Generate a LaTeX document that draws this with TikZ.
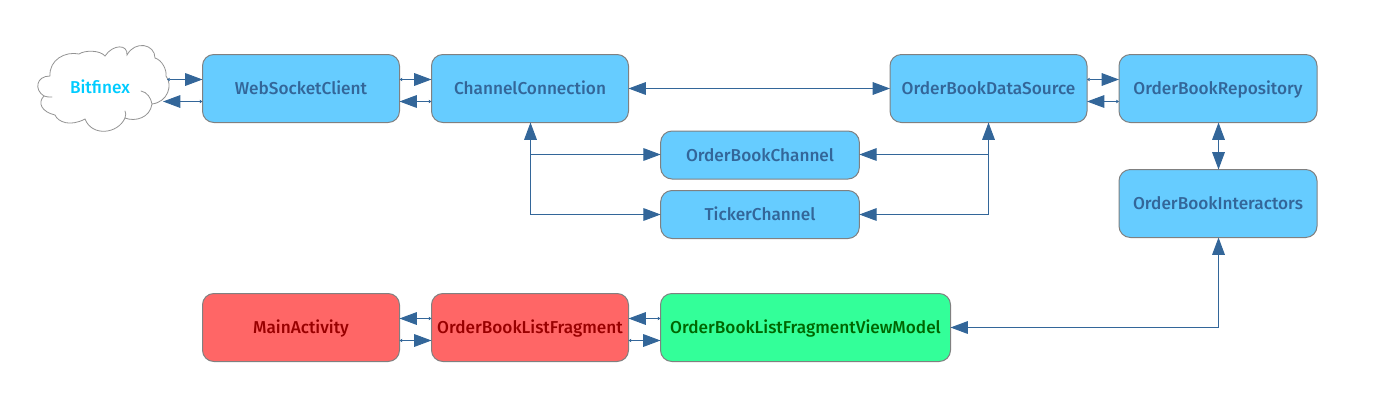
\documentclass[tikz,border=0pt]{standalone}
\usepackage{fontspec}
\setmainfont{Fira Sans Medium}
\usetikzlibrary{arrows.meta,calc}
\definecolor{bluefill}{HTML}{66CCFF}
\definecolor{redfill}{HTML}{FF6666}
\definecolor{greenfill}{HTML}{33FF99}
\definecolor{edgeblue}{HTML}{336699}
\definecolor{redtext}{HTML}{990000}
\definecolor{greentext}{HTML}{006600}
\definecolor{cloudtext}{HTML}{00CCFF}
\definecolor{boxline}{HTML}{808080}
\tikzset{
  box/.style={draw=boxline,line width=0.75pt,rounded corners=8.5pt,inner sep=0pt,outer sep=0pt,
    minimum height=51pt,minimum width=147.75pt,text height=10.5pt,text depth=1.1pt,font=\fontsize{12.9pt}{14pt}\selectfont},
  bluebox/.style={box,fill=bluefill,text=edgeblue},
  redbox/.style={box,fill=redfill,text=redtext},
  greenbox/.style={box,fill=greenfill,text=greentext},
  conn/.style={draw=edgeblue,line width=0.75pt},
  bigtip/.tip={Triangle[length=13pt,width=9.5pt]},
  smalltip/.tip={Triangle[length=2pt,width=2.5pt]},
  two/.style={conn,{smalltip}-{bigtip}},
  owt/.style={conn,{bigtip}-{smalltip}},
  both/.style={conn,{bigtip}-{bigtip}},
  cloudline/.style={draw=boxline!85!white,line width=0.6pt,line cap=round}
}
\begin{document}
\begin{tikzpicture}[x=0.75pt,y=-0.75pt]
\useasboundingbox (0,0) rectangle (1373,407);
% cloud
\fill[white] (50,78) -- (80,55) -- (140,45) -- (166,75) -- (170,90) -- (150,110) -- (105,131) -- (55,105) -- cycle;
\draw[cloudline]
 (50,76) .. controls (49,60) and (65,51) .. (79,54)
 .. controls (85,50) and (100,50) .. (105,56)
 .. controls (113,44) and (128,44) .. (127,55)
 .. controls (135,40) and (155,44) .. (155,58)
 .. controls (162,60) and (167,70) .. (166,76)
 .. controls (173,85) and (168,102) .. (152,104)
 .. controls (150,118) and (135,122) .. (125,118)
 .. controls (118,134) and (92,137) .. (85,119)
 .. controls (70,127) and (58,122) .. (55,115)
 .. controls (42,112) and (37,103) .. (44,96)
 .. controls (34,90) and (36,76) .. (50,76);
\draw[cloudline] (44,96) .. controls (46,97) and (49,97) .. (52,97);
\draw[cloudline] (141,91) .. controls (147,92) and (151,98) .. (152,104);
\draw[cloudline] (125,118) .. controls (126,115) and (126,113) .. (125,111);
\node[inner sep=0pt,text=cloudtext,text height=10.5pt,text depth=1.1pt,font=\fontsize{12.9pt}{14pt}\selectfont] (bitfinex) at (100,87.5) {Bitfinex};
\coordinate (cloudup) at (167,79.5);
\coordinate (clouddown) at (163,101.5);
% boxes
\node[bluebox] (wsc) at (301,88.5) {WebSocketClient};
\node[bluebox] (cc) at (530,88.5) {ChannelConnection};
\node[bluebox] (ds) at (988.5,88.5) {OrderBookDataSource};
\node[bluebox,minimum width=148.5pt] (repo) at (1218,88.5) {OrderBookRepository};
\node[bluebox,minimum width=148.5pt] (inter) at (1218,203.5) {OrderBookInteractors};
\node[bluebox,minimum width=149pt,minimum height=36pt] (obc) at (760,155) {OrderBookChannel};
\node[bluebox,minimum width=149pt,minimum height=36pt] (tick) at (760,214.5) {TickerChannel};
\node[redbox] (main) at (301,327.5) {MainActivity};
\node[redbox] (frag) at (530,327.5) {OrderBookListFragment};
\node[greenbox,minimum width=217.5pt] (vm) at (805.5,327.5) {OrderBookListFragmentViewModel};
% connectors
\draw[two] (cloudup) -- (cloudup-|wsc.west);
\draw[owt] (clouddown) -- (clouddown-|wsc.west);
\draw[two] ([yshift=6.75pt]wsc.east) -- ([yshift=6.75pt]cc.west);
\draw[owt] ([yshift=-9.75pt]wsc.east) -- ([yshift=-9.75pt]cc.west);
\draw[both] (cc.east) -- (ds.west);
\draw[two] ([yshift=6.75pt]ds.east) -- ([yshift=6.75pt]repo.west);
\draw[owt] ([yshift=-9.75pt]ds.east) -- ([yshift=-9.75pt]repo.west);
\draw[both] ([xshift=0.375pt]repo.south) -- ([xshift=0.375pt]inter.north);
\draw[both] ([xshift=0.375pt]inter.south) |- (vm.east);
\draw[both] ([xshift=0.375pt]cc.south) |- (tick.west);
\draw[conn,-{bigtip}] ([xshift=0.375pt,yshift=0.375pt]cc.south|-obc.west) -- ([yshift=0.375pt]obc.west);
\draw[both] (ds.south) |- (tick.east);
\draw[conn,-{bigtip}] ([yshift=0.375pt]ds.south|-obc.east) -- ([yshift=0.375pt]obc.east);
\draw[owt] ([yshift=6.75pt]main.east) -- ([yshift=6.75pt]frag.west);
\draw[two] ([yshift=-9.75pt]main.east) -- ([yshift=-9.75pt]frag.west);
\draw[owt] ([yshift=6.75pt]frag.east) -- ([yshift=6.75pt]vm.west);
\draw[two] ([yshift=-9.75pt]frag.east) -- ([yshift=-9.75pt]vm.west);
\end{tikzpicture}
\end{document}
